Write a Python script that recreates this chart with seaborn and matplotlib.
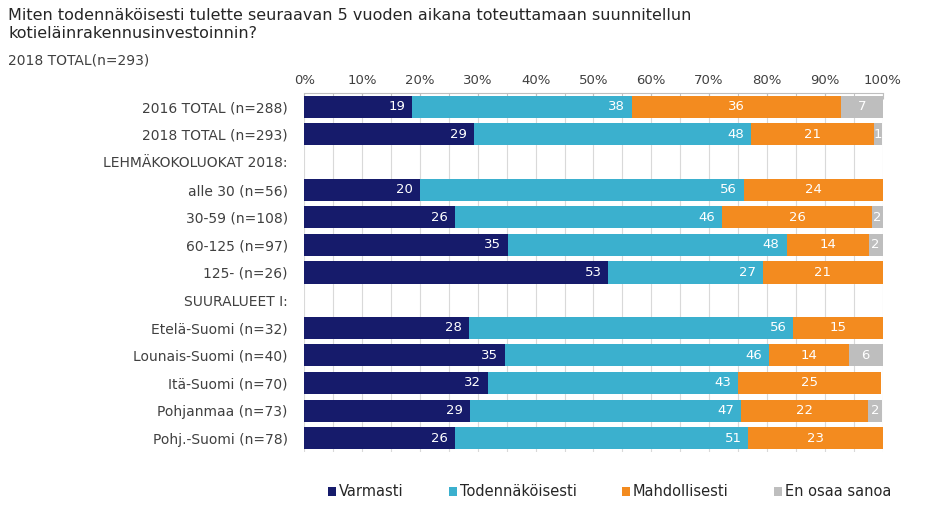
import numpy as np
import pandas as pd
import matplotlib
matplotlib.use('Agg')
import matplotlib.pyplot as plt
import seaborn as sns
from matplotlib.patches import Patch
from matplotlib.ticker import MultipleLocator, FuncFormatter

# -----------------------------
# Data (percent shares)
# -----------------------------
labels = ['2016 TOTAL (n=288)', '2018 TOTAL (n=293)', 'LEHMÄKOKOLUOKAT 2018:',
          'alle 30 (n=56)', '30-59 (n=108)', '60-125 (n=97)', '125- (n=26)',
          'SUURALUEET I:',
          'Etelä-Suomi (n=32)', 'Lounais-Suomi (n=40)', 'Itä-Suomi (n=70)',
          'Pohjanmaa (n=73)', 'Pohj.-Suomi (n=78)']
series = ['Varmasti', 'Todennäköisesti', 'Mahdollisesti', 'En osaa sanoa']
varmasti = [18.6, 29.3, 0, 20.0, 26.1, 35.2, 52.6, 0, 28.4, 34.7, 31.8, 28.6, 26.1]
todennakoisesti = [38.0, 48.0, 0, 56.0, 46.1, 48.2, 26.7, 0, 56.2, 45.7, 43.2, 47.0, 50.7]
mahdollisesti = [36.2, 21.2, 0, 24.0, 26.0, 14.2, 20.7, 0, 15.4, 13.8, 24.7, 21.9, 23.2]
en_osaa = [7.2, 1.4, 0, 0, 1.8, 2.4, 0, 0, 0, 5.8, 0, 2.4, 0]
colors = ['#161b6b', '#3bb0ce', '#f38b1f', '#bebebe']

values = np.array([varmasti, todennakoisesti, mahdollisesti, en_osaa])
cum = values.cumsum(axis=0)

df = pd.DataFrame({'label': labels})
for i, s in enumerate(series):
    df[s] = cum[i]

# -----------------------------
# Plot
# -----------------------------
sns.set_style('white')
plt.rcParams['font.family'] = ['DejaVu Sans']

fig = plt.figure(figsize=(9.28, 5.25), dpi=100)
ax = fig.add_axes([0.328, 0.139, 0.623, 0.684])

# draw cumulative bars from the longest to the shortest so they stack
for i in reversed(range(len(series))):
    sns.barplot(data=df, x=series[i], y='label', order=labels, orient='h',
                color=colors[i], width=0.8, errorbar=None, ax=ax,
                saturation=1, linewidth=0, zorder=3)

# segment labels
for i in range(len(series)):
    for j in range(len(labels)):
        v = values[i, j]
        if v <= 0:
            continue
        end = cum[i, j]
        if i < 2:
            ax.text(end - 1.2, j, f'{v:.0f}', ha='right', va='center',
                    color='white', fontsize=9.5, zorder=5)
        else:
            ax.text(end - v / 2, j, f'{v:.0f}', ha='center', va='center',
                    color='white', fontsize=9.5, zorder=5)

ax.set_xlim(0, 100)
ax.set_ylim(len(labels) - 0.5, -0.5)
ax.xaxis.tick_top()
ax.xaxis.set_major_locator(MultipleLocator(10))
ax.xaxis.set_minor_locator(MultipleLocator(5))
ax.xaxis.set_major_formatter(FuncFormatter(lambda x, p: f'{x:.0f}%'))
ax.grid(axis='x', which='both', color='#d9d9d9', linewidth=0.8, zorder=0)
ax.set_axisbelow(True)
ax.tick_params(axis='x', which='both', top=True, direction='in', length=4,
               color='#bfbfbf', labelsize=9.5, labelcolor='#404040', pad=4)
ax.tick_params(axis='y', length=0, labelsize=10, labelcolor='#404040', pad=12)
ax.set_xlabel('')
ax.set_ylabel('')
for side in ['right', 'bottom', 'left']:
    ax.spines[side].set_visible(False)
ax.spines['top'].set_color('#bfbfbf')

# titles
fig.text(0.009, 0.985, 'Miten todennäköisesti tulette seuraavan 5 vuoden aikana toteuttamaan suunnitellun\n'
         'kotieläinrakennusinvestoinnin?', ha='left', va='top', fontsize=11.5,
         color='#262626', linespacing=1.22)
fig.text(0.009, 0.885, '2018 TOTAL(n=293)', ha='left', va='center', fontsize=10,
         color='#404040')

# legend
handles = [Patch(facecolor=c, edgecolor='none') for c in colors]
fig.legend(handles, series, loc='center', ncol=4,
           bbox_to_anchor=(0.657, 0.063), frameon=False, fontsize=10.5,
           handlelength=0.55, handleheight=0.55, handletextpad=0.2,
           columnspacing=3.1, labelcolor='#262626')

plt.savefig('out.png', dpi=100)
